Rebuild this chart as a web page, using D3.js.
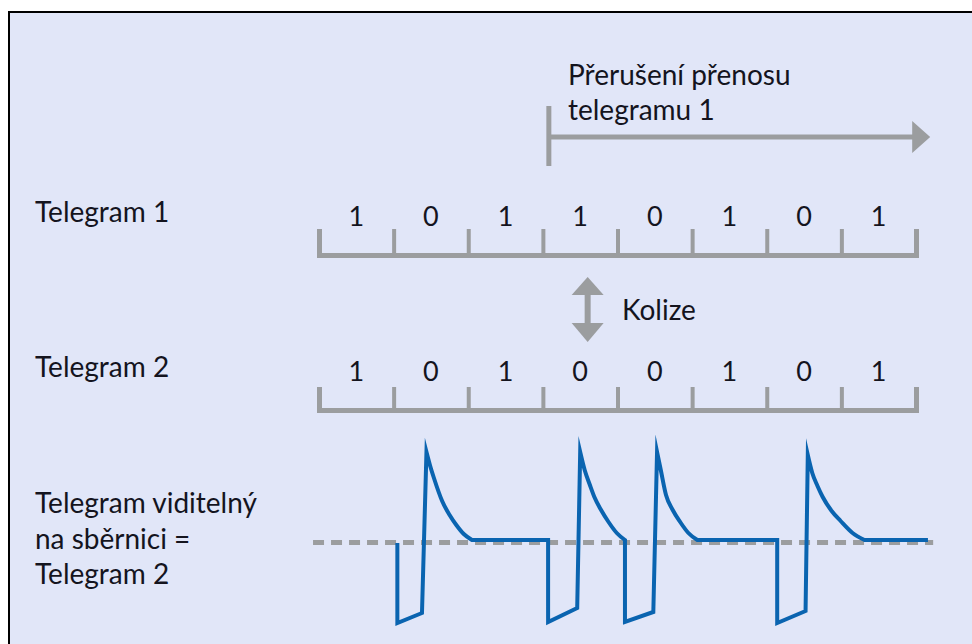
<!DOCTYPE html>
<html>
<head>
<meta charset="utf-8">
<script src="https://cdn.jsdelivr.net/npm/d3@7"></script>
<style>
  html, body { margin: 0; padding: 0; background: #fff; }
  text { font-family: Lato, "Open Sans", sans-serif; fill: #14141e; }
</style>
</head>
<body>
<div id="chart"></div>
<script>
// bit values of the two telegrams
var telegram1Bits = [1, 0, 1, 1, 0, 1, 0, 1];
var telegram2Bits = [1, 0, 1, 0, 0, 1, 0, 1];

// row labels
var rowLabels = ["Telegram 1", "Telegram 2"];
var busLabel = ["Telegram viditelný", "na sběrnici =", "Telegram 2"];
var interruptLabel = ["Přerušení přenosu", "telegramu 1"];
var collisionLabel = "Kolize";

// markers, in bit times
var interruptStart = 3.08, interruptEnd = 8.19;
var collisionAt = 3.6;
var idleLevel = -2.5, idleFrom = -0.08, idleTo = 8.23;

// signal seen on the bus: [bit time, level]
// straight parts (edges + flat) and the decaying parts after each peak
var busEdges = [
  [[1.05, -3], [1.05, -83], [1.38, -73], [1.44, 88]],
  [[2.05, 0], [3.07, 0], [3.07, -82], [3.46, -68], [3.50, 88]],
  [[4.10, 0], [4.10, -82], [4.48, -72], [4.53, 88]],
  [[5.07, 0], [6.14, 0], [6.14, -83], [6.52, -71], [6.55, 85]],
  [[7.31, 0], [8.16, 0]]
];
var busDecays = [
  [[1.44, 88], [1.49, 74], [1.54, 62], [1.65, 39], [1.75, 25], [1.84, 15], [1.94, 6], [2.05, 0]],
  [[3.50, 88], [3.56, 70], [3.63, 55], [3.69, 43], [3.78, 30], [3.88, 18], [3.99, 7], [4.10, 0]],
  [[4.53, 88], [4.58, 70], [4.65, 45], [4.74, 30], [4.84, 18], [4.95, 7], [5.07, 0]],
  [[6.55, 85], [6.61, 67], [6.68, 54], [6.75, 43], [6.87, 29], [6.99, 19], [7.15, 7], [7.31, 0]]
];

var W = 972, H = 644;
var gray = "#9b9d9f", blue = "#0a64b0";

var svg = d3.select("#chart").append("svg")
  .attr("width", W).attr("height", H);

// panel
svg.append("rect")
  .attr("x", 9).attr("y", 12)
  .attr("width", W + 10).attr("height", H + 10)
  .attr("fill", "#e1e6f8")
  .attr("stroke", "#000").attr("stroke-width", 2);

//Scales
var x = d3.scaleLinear().domain([0, 8]).range([319, 916]);
var y = d3.scaleLinear().domain([-83, 88]).range([623, 452]);

// one ruler per telegram
function ruler(bits, baseY, tickH, labelY) {
  var axis = d3.axisTop(x)
    .tickValues(d3.range(0, 9))
    .tickSizeInner(tickH)
    .tickSizeOuter(tickH)
    .tickFormat("");
  var g = svg.append("g")
    .attr("transform", "translate(0," + baseY + ")")
    .call(axis);
  g.select(".domain").attr("stroke", gray).attr("stroke-width", 5).attr("fill", "none");
  g.selectAll(".tick line").attr("stroke", gray).attr("stroke-width", 4);

  svg.selectAll(null)
    .data(bits)
    .enter().append("text")
    .attr("x", function (d, i) { return x(i + 0.5); })
    .attr("y", labelY)
    .attr("text-anchor", "middle")
    .attr("font-size", 27)
    .text(function (d) { return d; });
}
ruler(telegram1Bits, 255, 26, 226);
ruler(telegram2Bits, 410, 23, 381);

// left labels
svg.append("text").attr("x", 35).attr("y", 222).attr("font-size", 28).text(rowLabels[0]);
svg.append("text").attr("x", 35).attr("y", 377).attr("font-size", 28).text(rowLabels[1]);
busLabel.forEach(function (s, i) {
  svg.append("text").attr("x", 35).attr("y", 513 + i * 35.5).attr("font-size", 28).text(s);
});

// interruption arrow
svg.append("line")
  .attr("x1", x(interruptStart)).attr("x2", x(interruptStart))
  .attr("y1", 106).attr("y2", 166)
  .attr("stroke", gray).attr("stroke-width", 5);
svg.append("line")
  .attr("x1", x(interruptStart)).attr("x2", x(interruptEnd) - 14)
  .attr("y1", 137).attr("y2", 137)
  .attr("stroke", gray).attr("stroke-width", 5);
svg.append("path")
  .attr("d", "M" + x(interruptEnd) + ",137 l-18,-16 v32 z")
  .attr("fill", gray);
interruptLabel.forEach(function (s, i) {
  svg.append("text").attr("x", 568).attr("y", 85 + i * 35).attr("font-size", 28).text(s);
});

// collision arrow
var cx = x(collisionAt);
svg.append("line")
  .attr("x1", cx).attr("x2", cx).attr("y1", 290).attr("y2", 328)
  .attr("stroke", gray).attr("stroke-width", 6);
svg.append("path").attr("d", "M" + cx + ",277 l16,18 h-32 z").attr("fill", gray);
svg.append("path").attr("d", "M" + cx + ",342 l16,-19 h-32 z").attr("fill", gray);
svg.append("text").attr("x", 622).attr("y", 320).attr("font-size", 28).text(collisionLabel);

// idle level (dashed)
svg.append("line")
  .attr("x1", x(idleFrom)).attr("x2", x(idleTo))
  .attr("y1", y(idleLevel)).attr("y2", y(idleLevel))
  .attr("stroke", gray).attr("stroke-width", 5)
  .attr("stroke-dasharray", "11,7");

// bus signal
var edgeLine = d3.line()
  .x(function (d) { return x(d[0]); })
  .y(function (d) { return y(d[1]); });
var decayLine = d3.line()
  .curve(d3.curveMonotoneX)
  .x(function (d) { return x(d[0]); })
  .y(function (d) { return y(d[1]); });

var dStr = "";
busEdges.forEach(function (e, i) {
  var part = edgeLine(e);
  dStr += i === 0 ? part : part.replace(/^M[^LC]*/, "");
  if (busDecays[i]) dStr += decayLine(busDecays[i]).replace(/^M[^LC]*/, "");
});
svg.append("path")
  .attr("d", dStr)
  .attr("fill", "none")
  .attr("stroke", blue)
  .attr("stroke-width", 4)
  .attr("stroke-linejoin", "miter")
  .attr("stroke-miterlimit", 10);
</script>
</body>
</html>
